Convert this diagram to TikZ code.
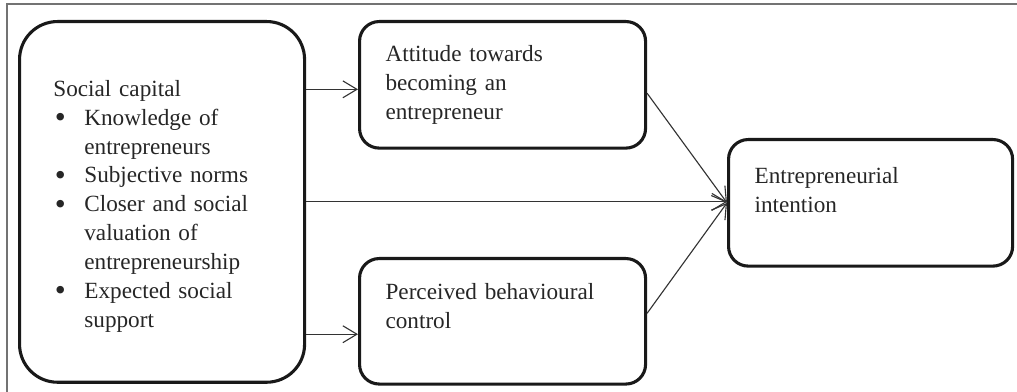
\documentclass[tikz,border=0pt]{standalone}
\usepackage{fontspec}
\setmainfont{Liberation Serif}
\usetikzlibrary{arrows.meta}

\newcommand{\bul}{\hspace*{1pt}\makebox[21pt][l]{\raisebox{-1.6pt}[0pt][0pt]{\scalebox{1.35}{\textbullet}}}}
\newcommand{\ind}{\hspace*{22pt}}

\begin{document}
\begin{tikzpicture}
  [x=0.025cm,y=-0.025cm,
   every node/.style={draw=black!90,line width=2.2pt,align=left,inner ysep=0pt,
     text=black!85,font=\fontsize{16.5}{20.55}\selectfont,anchor=north west},
   smallbox/.style={rounded corners=14pt,inner xsep=18.5pt,text width=166.4pt},
   arr/.style={-{Straight Barb[length=10pt,width=12pt]},line width=0.8pt,draw=black!80}]
  \useasboundingbox (0,0) rectangle (1017,392);
  \draw[black!55,line width=1.1pt] (7,392) -- (7,4) -- (1017,4);

  \node[rounded corners=27pt,inner xsep=24.1pt,text width=154.5pt,
    text height=53.1pt,text depth=203.4pt] (sc) at (18,20)
    {Social capital\\
     \bul Knowledge of\\
     \ind entrepreneurs\\
     \bul Subjective norms\\
     \bul Closer and social\\
     \ind valuation of\\
     \ind entrepreneurship\\
     \bul Expected social\\
     \ind support};
  \node[smallbox,text height=28.35pt,text depth=61.65pt] (att) at (358,20)
    {Attitude towards\\ becoming an\\ entrepreneur};
  \node[smallbox,text height=29.05pt,text depth=60.2pt] (pbc) at (358,257)
    {Perceived behavioural\\ control};
  \node[smallbox,text width=165pt,text height=31.2pt,text depth=58.8pt] (ei) at (727,138)
    {Entrepreneurial\\ intention};

  \coordinate (attin) at ([yshift=-3.2pt]att.west);
  \coordinate (pbcin) at ([yshift=-9.2pt]pbc.west);
  \coordinate (attout) at ([yshift=-6pt]att.east);
  \coordinate (pbcout) at ([yshift=5.7pt]pbc.east);

  \draw[arr] (sc.east |- attin) -- (attin);
  \draw[arr] (sc.east |- pbcin) -- (pbcin);
  \draw[arr] (sc.east) -- (sc.east -| ei.west);
  \foreach \from in {attout,pbcout}
    \draw[arr] (\from) -- (ei.west);
\end{tikzpicture}
\end{document}
